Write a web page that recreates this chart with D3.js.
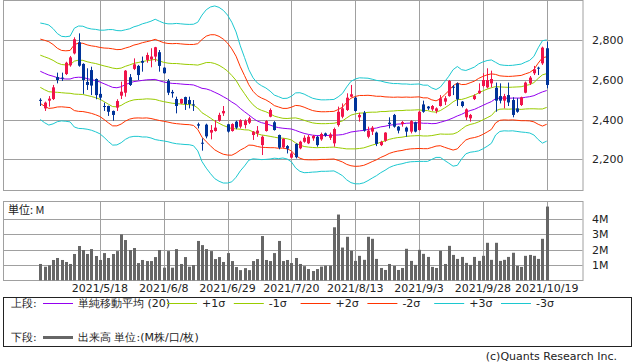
<!DOCTYPE html>
<html lang="ja">
<head>
<meta charset="utf-8">
<title>ボリンジャーバンド</title>
<script src="https://d3js.org/d3.v7.min.js"></script>
<style>
    body { margin: 0; background: #fff; }
    svg text { font-family: "DejaVu Sans", sans-serif; fill: #222; }
    .jp { font-family: "Noto Sans CJK JP", sans-serif; }
</style>
</head>
<body>
<div id="chart"></div>
<script>
    // 4本値 (円)
    const openP = [2500,2457,2496,2504,2615,2612,2630,2674,2734,2790,2681,2590,2650,2605,2530,2469,2469,2444,2461,2521,
        2536,2614,2656,2671,2696,2701,2704,2718,2740,2662,2595,2540,2504,2482,2514,2499,2477,2377,2284,2375,
        2335,2343,2395,2432,2377,2343,2390,2365,2373,2385,2323,2331,2272,2343,2415,2387,2323,2261,2267,2209,
        2278,2256,2289,2281,2306,2314,2301,2331,2309,2281,2373,2415,2449,2516,2511,2412,2435,2314,2340,2335,
        2272,2294,2385,2424,2365,2378,2360,2340,2387,2348,2477,2466,2452,2444,2469,2491,2519,2566,2583,2491,
        2412,2407,2504,2533,2570,2563,2583,2561,2519,2496,2524,2499,2457,2474,2536,2583,2634,2662,2684,2760];
    const highP = [2508,2491,2519,2575,2637,2637,2692,2721,2815,2835,2684,2659,2667,2608,2566,2486,2471,2446,2503,2592,
        2650,2630,2709,2676,2718,2738,2760,2767,2751,2664,2605,2550,2516,2506,2516,2516,2499,2385,2306,2380,
        2373,2398,2435,2469,2379,2382,2395,2402,2402,2415,2343,2368,2320,2398,2457,2393,2325,2306,2272,2239,
        2281,2294,2321,2323,2323,2318,2335,2335,2335,2360,2466,2482,2533,2575,2516,2435,2444,2365,2368,2340,
        2294,2337,2412,2429,2368,2393,2365,2398,2390,2444,2496,2469,2474,2462,2524,2519,2600,2575,2587,2494,
        2457,2429,2528,2583,2634,2659,2647,2587,2583,2530,2587,2513,2508,2516,2592,2620,2671,2667,2768,2793];
    const lowP = [2469,2444,2466,2499,2583,2595,2625,2667,2729,2667,2530,2550,2524,2503,2499,2444,2419,2395,2444,2504,
        2516,2570,2650,2600,2642,2687,2664,2692,2642,2632,2524,2511,2432,2480,2449,2457,2444,2356,2244,2306,
        2301,2340,2390,2419,2335,2340,2352,2356,2356,2378,2298,2314,2222,2340,2412,2345,2251,2256,2230,2205,
        2205,2251,2284,2277,2294,2264,2294,2314,2298,2264,2365,2407,2444,2513,2440,2390,2340,2306,2323,2267,
        2267,2289,2356,2360,2331,2365,2314,2331,2336,2345,2435,2449,2444,2432,2466,2474,2516,2524,2469,2462,
        2398,2390,2499,2530,2563,2558,2563,2440,2482,2457,2469,2412,2435,2469,2533,2575,2625,2625,2676,2558];
    const closeP = [2497,2486,2506,2563,2600,2609,2687,2714,2805,2672,2600,2575,2572,2524,2511,2466,2440,2424,2494,2541,
        2647,2575,2679,2625,2687,2726,2718,2765,2671,2634,2536,2533,2469,2504,2479,2479,2474,2370,2281,2316,
        2348,2360,2424,2444,2340,2378,2360,2398,2395,2407,2340,2345,2314,2393,2449,2348,2259,2304,2254,2230,
        2211,2289,2309,2314,2318,2272,2328,2321,2326,2353,2440,2457,2511,2528,2444,2424,2345,2345,2360,2278,
        2288,2335,2378,2365,2345,2388,2340,2393,2340,2440,2440,2457,2469,2457,2508,2508,2595,2563,2503,2469,
        2452,2424,2521,2546,2600,2600,2605,2496,2496,2519,2487,2424,2440,2513,2587,2612,2654,2659,2763,2575];

    // 出来高 (M株)
    const volume = [1.07,0.89,0.98,1.33,1.46,1.33,1.20,1.07,1.72,2.24,1.98,1.72,2.04,1.59,1.33,1.78,1.46,1.72,1.91,3.00,
        2.63,1.98,2.11,1.13,1.33,1.26,1.26,1.52,1.98,0.83,1.91,0.83,2.04,1.07,1.52,0.89,1.00,2.57,2.30,2.04,
        1.91,1.39,1.52,1.20,1.78,1.26,0.87,0.67,0.80,0.67,1.26,1.39,2.89,1.33,1.26,1.78,2.57,1.26,1.33,1.13,
        1.46,1.07,0.93,0.74,0.61,0.74,0.90,0.96,0.96,3.46,4.29,2.14,2.84,1.93,1.27,1.60,1.34,2.84,2.71,1.40,
        0.81,0.68,1.07,0.94,0.68,0.81,2.06,1.27,1.01,1.99,1.73,1.53,0.88,0.81,1.93,1.07,2.25,1.66,1.40,1.53,
        1.14,1.01,1.53,1.27,1.60,2.45,1.34,2.45,1.27,1.34,1.53,1.80,0.94,0.88,1.60,1.66,1.60,1.40,2.71,4.81];

    // 単純移動平均(20) と σ
    const ma20 = [2644,2634,2625,2619,2612,2607,2605,2605,2612,2614,2613,2607,2602,2597,2590,2581,2572,2563,2561,2566,
        2577,2585,2592,2595,2598,2601,2602,2603,2596,2590,2586,2583,2582,2580,2578,2577,2575,2567,2558,2555,
        2548,2538,2528,2516,2504,2489,2476,2457,2440,2424,2407,2393,2385,2380,2373,2365,2360,2357,2355,2353,
        2346,2338,2331,2326,2322,2320,2320,2320,2321,2322,2323,2325,2331,2338,2341,2344,2346,2351,2355,2358,
        2364,2367,2372,2375,2378,2379,2382,2383,2384,2385,2382,2382,2380,2381,2387,2393,2400,2409,2419,2427,
        2438,2446,2452,2462,2472,2482,2491,2506,2509,2509,2508,2509,2509,2509,2513,2516,2521,2531,2540,2547];
    const sigma = [81,83,84,80,74,71,71,72,83,86,86,85,85,86,87,90,94,97,96,94,
        92,91,92,93,95,96,98,101,100,99,99,100,101,101,101,101,102,108,123,133,
        140,145,146,145,141,134,122,105,91,76,68,64,62,60,57,53,52,50,51,55,
        63,66,66,64,62,61,60,60,60,60,64,69,78,85,88,89,88,86,83,80,
        77,74,71,69,68,67,66,65,65,65,64,64,60,57,59,66,73,81,83,75,
        70,70,71,73,73,72,70,61,56,55,55,55,56,57,59,61,66,77,86,85];

    const tickIndex = [14, 29, 44, 59, 74, 89, 104, 119];
    const tickLabels = ["2021/5/18", "2021/6/8", "2021/6/29", "2021/7/20", "2021/8/13", "2021/9/3", "2021/9/28", "2021/10/19"];
    const priceTicks = [2200, 2400, 2600, 2800];
    const volumeTicks = [1, 2, 3, 4];

    const width = 638, height = 362;
    const upColor = "#f0144a", downColor = "#003399";
    const gridColor = "#a0a0a0";

    const bands = [
        { k: 3, color: "#1cc8d0", label: "+3σ" },
        { k: -3, color: "#1cc8d0", label: "-3σ" },
        { k: 2, color: "#ff3300", label: "+2σ" },
        { k: -2, color: "#ff3300", label: "-2σ" },
        { k: 1, color: "#99cc00", label: "+1σ" },
        { k: -1, color: "#99cc00", label: "-1σ" },
        { k: 0, color: "#9400f0", label: "単純移動平均 (20)" }
    ];

    const svg = d3.select("#chart")
        .append("svg")
        .attr("width", width)
        .attr("height", height);

    // scales
    const idx = d3.range(closeP.length);
    const x = d3.scaleLinear().domain([0, closeP.length - 1]).range([40.3, 546.7]);
    const y = d3.scaleLinear().domain([2200, 2800]).range([159.4, 40.3]);
    const yv = d3.scaleLinear().domain([0, 4]).range([280.4, 219]);

    const main = { left: 3, right: 582.5, top: 0.5, bottom: 190.5 };
    const sub = { left: 3, right: 582.5, top: 201.5, bottom: 280.5 };
    const px = v => Math.round(v) + 0.5;

    // grid + frames
    [main, sub].forEach(p => {
        svg.append("g").selectAll("line")
            .data(tickIndex)
            .join("line")
            .attr("x1", d => px(x(d))).attr("x2", d => px(x(d)))
            .attr("y1", p.top).attr("y2", p.bottom)
            .attr("stroke", gridColor);
    });
    svg.append("g").selectAll("line")
        .data(priceTicks)
        .join("line")
        .attr("x1", main.left).attr("x2", main.right)
        .attr("y1", d => px(y(d))).attr("y2", d => px(y(d)))
        .attr("stroke", gridColor);
    svg.append("g").selectAll("line")
        .data(volumeTicks)
        .join("line")
        .attr("x1", sub.left).attr("x2", sub.right)
        .attr("y1", d => px(yv(d))).attr("y2", d => px(yv(d)))
        .attr("stroke", gridColor);
    [main, sub].forEach(p => {
        svg.append("rect")
            .attr("x", p.left + 0.5).attr("y", p.top)
            .attr("width", p.right - p.left).attr("height", p.bottom - p.top)
            .attr("fill", "none").attr("stroke", gridColor);
    });

    // price labels
    svg.append("g").selectAll("text")
        .data(priceTicks)
        .join("text")
        .attr("x", 592).attr("y", d => y(d) + 4)
        .attr("font-size", 11)
        .text(d => d3.format(",")(d));

    // volume labels
    svg.append("g").selectAll("text")
        .data(volumeTicks)
        .join("text")
        .attr("x", 592).attr("y", d => yv(d) + 4)
        .attr("font-size", 11)
        .text(d => d + "M");

    svg.append("text")
        .attr("class", "jp")
        .attr("x", 8).attr("y", 214)
        .attr("font-size", 11)
        .text("単位: M");

    // date labels
    svg.append("g").selectAll("text")
        .data(tickIndex)
        .join("text")
        .attr("x", d => x(d)).attr("y", 292)
        .attr("text-anchor", "middle")
        .attr("font-size", 11)
        .text((d, i) => tickLabels[i]);

    // bollinger bands
    bands.forEach(b => {
        const line = d3.line()
            .x(i => x(i))
            .y(i => y(ma20[i] + b.k * sigma[i]));
        svg.append("path")
            .datum(idx)
            .attr("d", line)
            .attr("fill", "none")
            .attr("stroke", b.color)
            .attr("stroke-width", 1);
    });

    // candles
    const candles = svg.append("g");
    idx.forEach(i => {
        const cx = Math.round(x(i));
        const up = closeP[i] >= openP[i];
        const col = up ? upColor : downColor;
        candles.append("line")
            .attr("x1", cx + 0.5).attr("x2", cx + 0.5)
            .attr("y1", y(highP[i])).attr("y2", y(lowP[i]))
            .attr("stroke", col);
        const top = y(Math.max(openP[i], closeP[i]));
        const bot = y(Math.min(openP[i], closeP[i]));
        candles.append("rect")
            .attr("x", cx - 1).attr("y", top)
            .attr("width", 3).attr("height", Math.max(1, bot - top))
            .attr("fill", col);
    });

    // volume bars
    svg.append("g").selectAll("rect")
        .data(idx)
        .join("rect")
        .attr("x", i => Math.round(x(i)) - 1)
        .attr("y", i => yv(volume[i]))
        .attr("width", 3)
        .attr("height", i => yv(0) - yv(volume[i]))
        .attr("fill", "#666");

    // legend
    svg.append("rect")
        .attr("x", 3.5).attr("y", 297.5)
        .attr("width", 628).attr("height", 49)
        .attr("fill", "none").attr("stroke", "#222");

    const lg = svg.append("g").attr("class", "jp").attr("font-size", 11);
    lg.append("text").attr("x", 11).attr("y", 307).text("上段:");
    lg.append("text").attr("x", 11).attr("y", 341).text("下段:");

    const legendItems = [bands[6], bands[4], bands[5], bands[2], bands[3], bands[0], bands[1]];
    legendItems.forEach((b, i) => {
        const lx = i === 0 ? 43 : 167 + (i - 1) * 66.8;
        lg.append("line")
            .attr("x1", lx).attr("x2", lx + 30)
            .attr("y1", 303.5).attr("y2", 303.5)
            .attr("stroke", b.color);
        lg.append("text")
            .attr("x", lx + 35).attr("y", 307)
            .text(b.label);
    });

    lg.append("line")
        .attr("x1", 43).attr("x2", 73)
        .attr("y1", 337.5).attr("y2", 337.5)
        .attr("stroke", "#666").attr("stroke-width", 3);
    lg.append("text").attr("x", 78).attr("y", 341).text("出来高 単位:(M株/口/枚)");

    svg.append("text")
        .attr("x", 617).attr("y", 360)
        .attr("text-anchor", "end")
        .attr("font-size", 11)
        .attr("fill", "#444")
        .text("(c)Quants Research Inc.");
</script>
</body>
</html>
